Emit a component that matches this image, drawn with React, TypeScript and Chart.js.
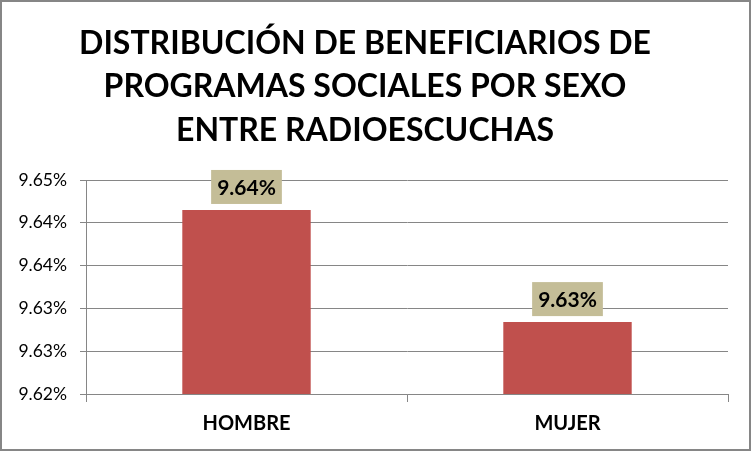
import React, { useEffect, useRef } from "react";
import { Chart, registerables } from "chart.js";

Chart.register(...registerables);

const TITLE_LINES = [
  "DISTRIBUCIÓN DE BENEFICIARIOS DE",
  "PROGRAMAS SOCIALES POR SEXO",
  "ENTRE RADIOESCUCHAS",
];
const CATEGORIES = ["HOMBRE", "MUJER"];
const VALUES = [9.6415, 9.6284];
const Y_MIN = 9.62;
const Y_MAX = 9.645;
const Y_STEP = 0.005;

const fmt = (v: number) => (Math.round(v * 100 + 1e-6) / 100).toFixed(2) + "%";

const FONT = "Lato";

const labelBoxPlugin = {
  id: "labelBoxes",
  afterDatasetsDraw(chart: any) {
    const ctx = chart.ctx;
    const meta = chart.getDatasetMeta(0);
    ctx.save();
    ctx.font = `bold 21px ${FONT}`;
    meta.data.forEach((bar: any, i: number) => {
      const text = fmt(chart.data.datasets[0].data[i] as number);
      const w = ctx.measureText(text).width + 12;
      const h = 34;
      const bottom = bar.y - 6;
      ctx.fillStyle = "#C4BD97";
      ctx.fillRect(bar.x - w / 2, bottom - h, w, h);
      ctx.fillStyle = "#000";
      ctx.textAlign = "center";
      ctx.textBaseline = "middle";
      ctx.fillText(text, bar.x, bottom - h / 2 + 1);
    });
    ctx.restore();
  },
};

export default function App() {
  const ref = useRef<HTMLCanvasElement | null>(null);

  useEffect(() => {
    if (!ref.current) return;
    const chart = new Chart(ref.current, {
      type: "bar",
      data: {
        labels: CATEGORIES,
        datasets: [
          {
            data: VALUES,
            backgroundColor: "#C0504D",
            borderWidth: 0,
            barPercentage: 0.4,
            categoryPercentage: 1.0,
          },
        ],
      },
      plugins: [labelBoxPlugin],
      options: {
        animation: false,
        responsive: false,
        maintainAspectRatio: false,
        layout: { padding: { left: 0, right: 21, top: 0, bottom: 0 } },
        plugins: {
          legend: { display: false },
          tooltip: { enabled: false },
          title: {
            display: true,
            text: TITLE_LINES,
            color: "#000",
            font: { family: FONT, size: 32, weight: "bold", lineHeight: "43.5px" },
            padding: { top: 19.75, bottom: 27.75 },
          },
        },
        scales: {
          x: {
            grid: {
              display: true,
              drawOnChartArea: false,
              drawTicks: true,
              tickLength: 8,
              color: "#868686",
            },
            border: { display: true, color: "#868686" },
            ticks: {
              color: "#000",
              padding: 10,
              font: { family: FONT, size: 20, weight: "bold" },
            },
            afterFit: (scale: any) => {
              scale.height = 55;
            },
          },
          y: {
            min: Y_MIN,
            max: Y_MAX,
            grid: { color: "#868686", tickLength: 6, drawTicks: true },
            border: { display: true, color: "#868686" },
            ticks: {
              stepSize: Y_STEP,
              color: "#000",
              padding: 13,
              font: { family: FONT, size: 17.5 },
              callback: (v: any) => fmt(Number(v)),
            },
            afterFit: (scale: any) => {
              scale.width = 84;
            },
          },
        },
      },
    });
    return () => chart.destroy();
  }, []);

  return (
    <div
      style={{
        position: "absolute",
        left: 0,
        top: 0,
        width: 751,
        height: 451,
        boxSizing: "border-box",
        border: "2px solid #868686",
        background: "#fff",
      }}
    >
      <canvas ref={ref} width={747} height={447} style={{ display: "block", width: 747, height: 447 }} />
    </div>
  );
}
